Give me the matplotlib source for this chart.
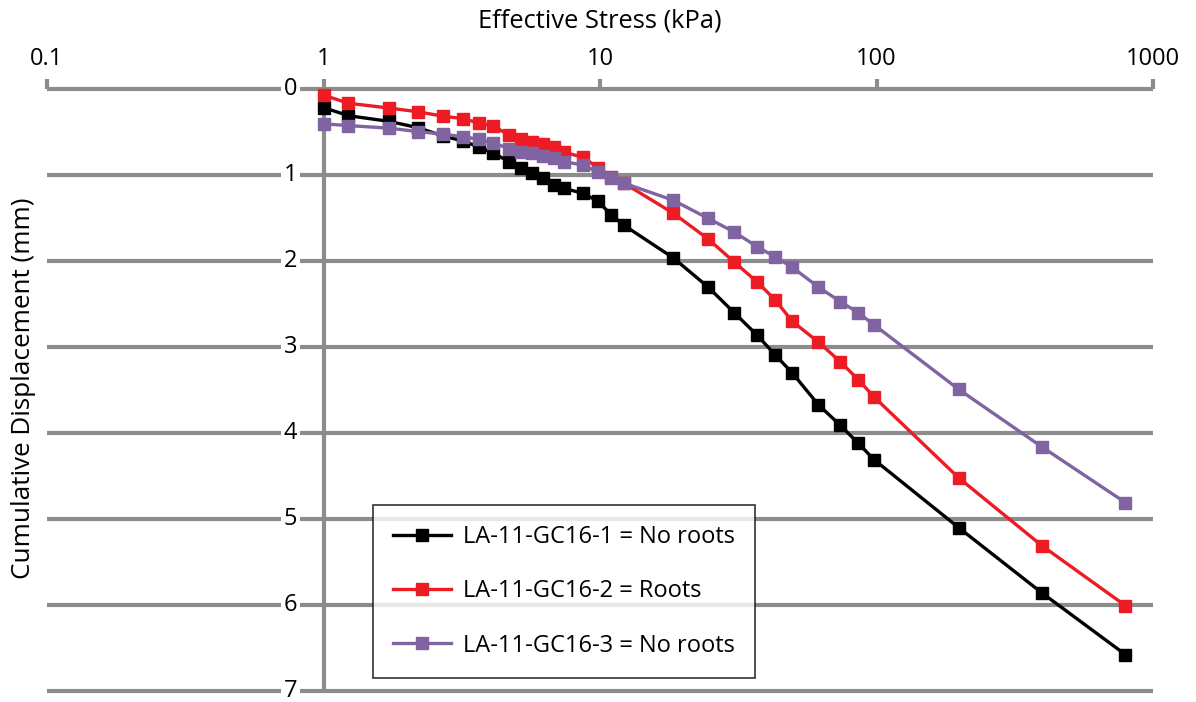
import matplotlib
matplotlib.use('Agg')
import matplotlib.pyplot as plt

plt.rcParams['font.family'] = ['Open Sans', 'DejaVu Sans']

# effective stress steps (kPa), shared by all three samples
stress = [1, 1.23, 1.72, 2.2, 2.7, 3.2, 3.65, 4.1, 4.7, 5.2, 5.7, 6.2, 6.8, 7.4,
          8.7, 9.8, 11, 12.2, 18.4, 24.6, 30.6, 37, 43, 49.6, 61.6, 74, 86, 98,
          198, 396, 795]

# cumulative displacement (mm)
gc16_1 = [0.21, 0.305, 0.37, 0.445, 0.54, 0.60, 0.67, 0.74, 0.84, 0.91, 0.97,
          1.03, 1.11, 1.15, 1.21, 1.30, 1.46, 1.58, 1.96, 2.30, 2.60, 2.86,
          3.09, 3.30, 3.67, 3.91, 4.12, 4.31, 5.10, 5.86, 6.58]
gc16_2 = [0.065, 0.16, 0.215, 0.26, 0.31, 0.34, 0.39, 0.425, 0.53, 0.58, 0.61,
          0.635, 0.67, 0.73, 0.79, 0.91, 1.02, 1.09, 1.44, 1.74, 2.01, 2.24,
          2.45, 2.70, 2.94, 3.17, 3.38, 3.58, 4.52, 5.31, 6.01]
gc16_3 = [0.40, 0.42, 0.45, 0.49, 0.52, 0.55, 0.58, 0.62, 0.69, 0.73, 0.74,
          0.77, 0.80, 0.84, 0.88, 0.96, 1.03, 1.09, 1.29, 1.50, 1.66, 1.83,
          1.95, 2.07, 2.30, 2.47, 2.60, 2.74, 3.49, 4.16, 4.81]

labels = ['LA-11-GC16-1 = No roots', 'LA-11-GC16-2 = Roots', 'LA-11-GC16-3 = No roots']
colors = ['#000000', '#ed1c24', '#8064a2']
x_ticks = [0.1, 1, 10, 100, 1000]
x_ticklabels = ['0.1', '1', '10', '100', '1000']
y_ticks = [0, 1, 2, 3, 4, 5, 6, 7]

grey = '#8c8c8c'

fig = plt.figure(figsize=(11.96, 7.02), dpi=100)
ax = fig.add_axes([47 / 1196, 11.3 / 702, 1106 / 1196, 601.2 / 702])

ax.set_xscale('log')
ax.set_xlim(0.1, 1000)
ax.set_ylim(7, 0)

for s in ax.spines.values():
    s.set_visible(False)

# horizontal grid lines (drawn by hand so the last one is not clipped)
ax.set_yticks(y_ticks)
ax.tick_params(axis='y', left=False, labelleft=False)
ax.hlines(y_ticks, 0.1, 1000, color=grey, linewidth=3, zorder=0, clip_on=False)

# vertical axis line at x = 1
ax.vlines(1, 0, 7, color=grey, linewidth=3, zorder=1, clip_on=False)

# y labels sitting on the grid lines, left of x = 1
for v in y_ticks:
    ax.text(0.76, v, str(v), ha='center', va='center', fontsize=17,
            bbox=dict(facecolor='white', edgecolor='none', pad=2), zorder=2)

# top x axis
ax.xaxis.set_ticks_position('top')
ax.set_xticks(x_ticks)
ax.set_xticklabels(x_ticklabels)
ax.minorticks_off()
ax.tick_params(axis='x', direction='out', length=7, width=3, color=grey,
               labelsize=17, pad=6)

series = [gc16_1, gc16_2, gc16_3]
for ys, c, lab in zip(series, colors, labels):
    ax.plot(stress, ys, color=c, linewidth=2.4, marker='s', markersize=8.5,
            label=lab, zorder=3, clip_on=False)

leg = ax.legend(loc='upper left', bbox_to_anchor=(373 / 1196, 1 - 505 / 702),
                bbox_transform=fig.transFigure, fontsize=17, frameon=True,
                fancybox=False, handlelength=2.45, handletextpad=0.5,
                labelspacing=1.28, borderpad=0.85, borderaxespad=0)
leg.get_frame().set_edgecolor('black')
leg.get_frame().set_linewidth(1.2)
leg.set_zorder(5)

fig.text(600 / 1196, 1 - 21 / 702, 'Effective Stress (kPa)', ha='center',
         va='center', fontsize=18.4)
fig.text(24 / 1196, 1 - 388 / 702, 'Cumulative Displacement (mm)', ha='center',
         va='center', rotation=90, fontsize=18.8)

fig.savefig('out.png', dpi=100)
